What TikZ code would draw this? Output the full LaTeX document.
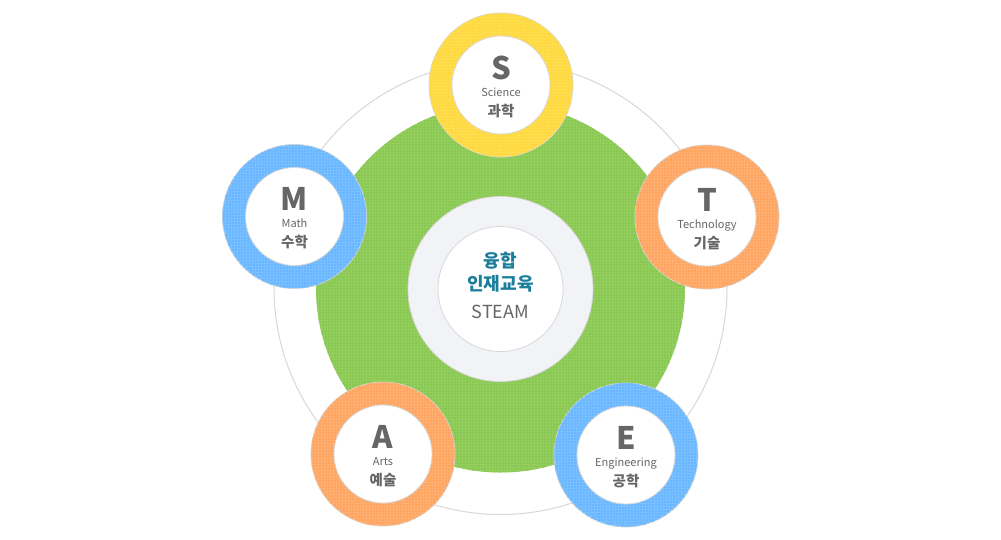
\documentclass[tikz,border=0pt]{standalone}
\usepackage{fontspec}
\setmainfont{Noto Sans CJK KR}
\newfontfamily\kr{Noto Sans CJK KR}
\usetikzlibrary{patterns}
\definecolor{txtgray}{HTML}{666666}
\definecolor{teal1}{HTML}{1B7F9B}
\definecolor{linegray}{HTML}{D8D8D8}
\definecolor{ringgray}{HTML}{F2F3F7}
\definecolor{greenf}{HTML}{88C84E}
\definecolor{yellowf}{HTML}{FFD83C}
\definecolor{orangef}{HTML}{FFA45E}
\definecolor{bluef}{HTML}{68B6FF}
\tikzset{
  ringouter/.style={circle, minimum size=144pt, inner sep=0pt, draw=linegray, line width=0.8pt,
    fill=#1, postaction={pattern=grid, pattern color=#1!88!white}},
  ringinner/.style={circle, minimum size=98pt, inner sep=0pt, draw=linegray, line width=0.8pt, fill=white},
  letter/.style={anchor=base, text=txtgray, font=\fontsize{31}{31}\selectfont\bfseries, inner sep=0pt},
  eng/.style={anchor=base, text=txtgray, font=\fontsize{11}{11}\selectfont, inner sep=0pt},
  kor/.style={anchor=base, text=txtgray, font=\kr\fontsize{14.5}{15}\selectfont\bfseries, inner sep=0pt},
}
\begin{document}
\begin{tikzpicture}[x=1pt,y=-1pt]
\useasboundingbox (0,0) rectangle (1001,539);
\fill[white] (0,0) rectangle (1001,539);
\coordinate (c) at (500.5,288);
% outer white disc
\node[circle, minimum size=453pt, inner sep=0pt, draw=linegray, line width=1pt, fill=white] (outer) at (c) {};
% green disc
\node[circle, minimum size=369pt, inner sep=0pt, fill=greenf,
  postaction={pattern=grid, pattern color=greenf!90!white}] (green) at (c) {};
% center ring
\node[circle, minimum size=185pt, inner sep=0pt, draw=linegray, line width=0.8pt, fill=ringgray] (cring) at (500.5,289) {};
\node[circle, minimum size=125pt, inner sep=0pt, draw=linegray, line width=0.8pt, fill=white] (cin) at (500.5,289) {};
\node[anchor=base, text=teal1, font=\kr\fontsize{18}{18}\selectfont\bfseries, inner sep=0pt] (t1) at (500.5,267) {융합};
\node[anchor=base, text=teal1, font=\kr\fontsize{18}{18}\selectfont\bfseries, inner sep=0pt] (t2) at (500.5,290) {인재교육};
\node[anchor=base, text=txtgray, font=\fontsize{18}{18}\selectfont, inner sep=0pt] (t3) at (500.5,318) {STEAM};
% satellites
\foreach \n/\x/\y/\col/\L/\E/\K in {
  S/501/85/yellowf/S/Science/과학,
  T/707/217/orangef/T/Technology/기술,
  M/294.5/216.5/bluef/M/Math/수학,
  A/383/454/orangef/A/Arts/예술,
  E/626/455/bluef/E/Engineering/공학}{
  \node[ringouter=\col] (\n o) at (\x,\y) {};
  \node[ringinner] (\n i) at (\x,\y) {};
  \node[letter] (\n l) at (\x,\y-6) {\L};
  \node[eng] (\n e) at (\x,\y+11) {\E};
  \node[kor] (\n k) at (\x,\y+31) {\K};
}
\end{tikzpicture}
\end{document}
